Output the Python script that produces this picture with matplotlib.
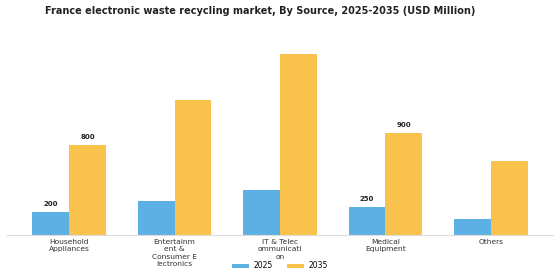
import matplotlib
matplotlib.use("Agg")
import matplotlib.pyplot as plt
import numpy as np

# data
categories = ["Household\nAppliances", "Entertainm\nent &\nConsumer E\nlectronics",
              "IT & Telec\nommunicati\non", "Medical\nEquipment", "Others"]
values_2025 = [200, 300, 400, 250, 145]
values_2035 = [800, 1200, 1600, 900, 655]
labels_2025 = ["200", None, None, "250", None]
labels_2035 = ["800", None, None, "900", None]

blue = "#5DB0E3"
yellow = "#F8C24C"

fig = plt.figure(figsize=(5.6, 2.8), dpi=100)
ax = fig.add_axes([0.0125, 0.161, 0.975, 0.725])

x = np.arange(len(categories))
w = 0.35
b1 = ax.bar(x - w / 2, values_2025, w, color=blue, label="2025")
b2 = ax.bar(x + w / 2, values_2035, w, color=yellow, label="2035")

for bars, labs in [(b1, labels_2025), (b2, labels_2035)]:
    for rect, lab in zip(bars, labs):
        if lab:
            ax.text(rect.get_x() + rect.get_width() / 2, rect.get_height() + 45, lab,
                    ha="center", va="bottom", fontsize=5, fontweight="bold", color="#222222")

ax.set_xlim(-0.59, 4.59)
ax.set_ylim(0, 1800)
ax.set_xticks(x)
ax.set_xticklabels(categories, fontsize=5.4, color="#333333", linespacing=1.25)
ax.tick_params(axis="x", length=0, pad=3)
ax.set_yticks([])
for s in ["top", "right", "left"]:
    ax.spines[s].set_visible(False)
ax.spines["bottom"].set_color("#dddddd")
ax.spines["bottom"].set_linewidth(0.8)

fig.text(0.465, 0.96, "France electronic waste recycling market, By Source, 2025-2035 (USD Million)",
         fontsize=7.0, fontweight="bold", color="#222222", ha="center", va="center")
fig.legend(loc="lower center", bbox_to_anchor=(0.5, 0.01), ncol=2, frameon=False,
           fontsize=5.5, handlelength=2.2, handleheight=0.45, handletextpad=0.6,
           columnspacing=1.8)

fig.savefig("out.png", dpi=100)
